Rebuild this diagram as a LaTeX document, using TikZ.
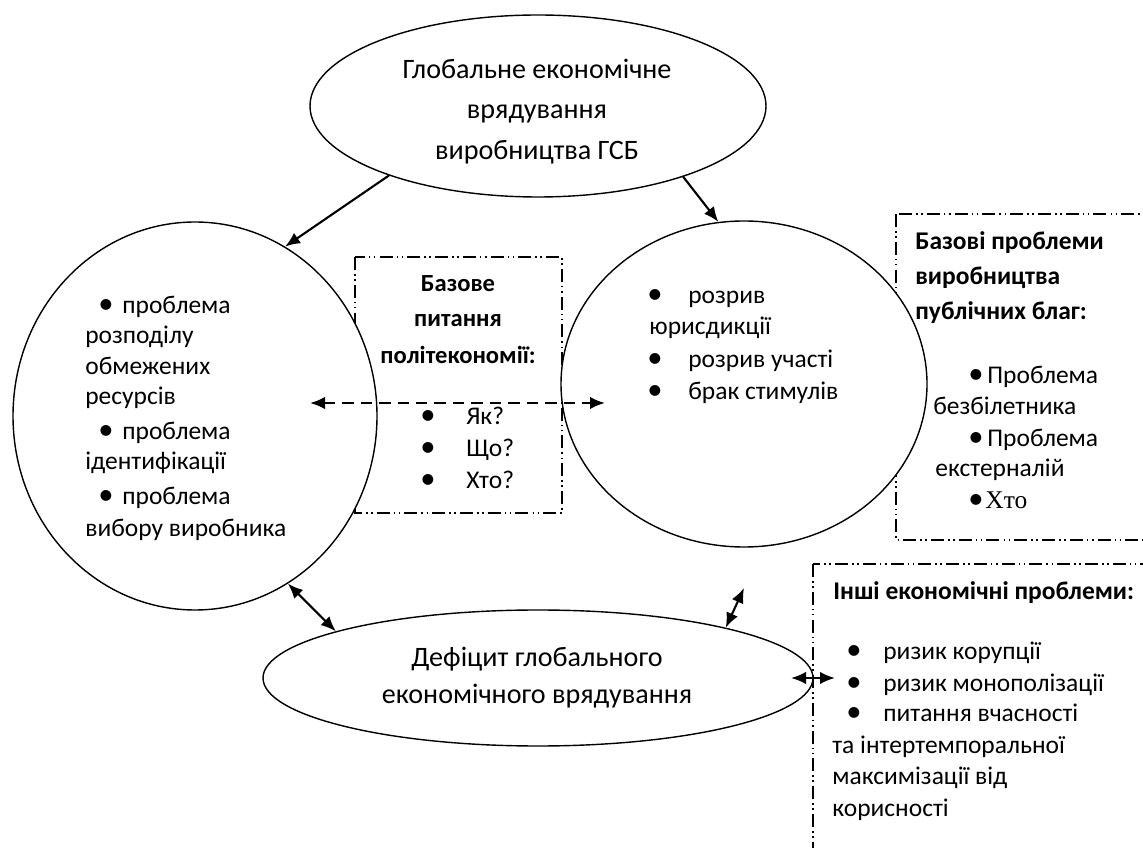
\documentclass[tikz,border=0pt]{standalone}
\usepackage{fontspec}
\setmainfont{Carlito}
\newfontfamily\timesfont{Liberation Serif}
\usetikzlibrary{shapes.geometric,arrows.meta}
\newcommand{\itm}[1]{\makebox[#1][l]{\scalebox{1.2}{•}}}

\begin{document}
\begin{tikzpicture}[>={Latex[length=3mm,width=2.5mm]}]
	\tikzstyle{oval}=[draw,shape=ellipse,fill=white,line width=0.8pt,inner sep=0]
	\tikzstyle{etxt}=[inner sep=0,anchor=base,font=\fontsize{16}{19}\selectfont]
	\tikzstyle{txt}=[inner sep=0,anchor=base west,font=\fontsize{14.5}{17}\selectfont]
	\tikzstyle{btxt}=[inner sep=0,anchor=base west,font=\fontsize{14.5}{17}\selectfont\bfseries]
	\tikzstyle{ctxt}=[inner sep=0,anchor=base,font=\fontsize{14}{17}\selectfont\bfseries]
	\tikzstyle{dbox}=[line width=0.6pt,dash pattern=on 7.4pt off 2.3pt on 0.9pt off 2pt on 0.9pt off 2.3pt]
	\tikzstyle{arr}=[line width=1.2pt,->]

	\useasboundingbox (0,0) rectangle (22.86,16.94);
	\clip (0,0) rectangle (22.86,16.94);

	% dash-dot frames
	\draw[dbox] (7.1,11.8) rectangle (11.24,6.68);
	\draw[dbox] (17.92,12.66) rectangle (23.5,6.14);
	\draw[dbox] (16.26,5.66) rectangle (23.5,-0.5);

	\node[oval,minimum width=9.12cm,minimum height=3.64cm](glob) at (10.76,14.82){};
	\node[oval,minimum width=7.28cm,minimum height=7.76cm](prob) at (3.9,8.62){};
	\node[oval,minimum width=7.32cm,minimum height=6.52cm](rozr) at (14.88,9.26){};
	\node[oval,minimum width=11cm,minimum height=2.72cm](defic) at (10.76,3.38){};

	% top
	\node[etxt](g1) at (10.74,15.37){Глобальне економічне};
	\node[etxt](g2) at (10.74,14.57){врядування};
	\node[etxt](g3) at (10.74,13.75){виробництва ГСБ};

	% left circle
	\node[txt](p1) at (1.96,10.67){\itm{0.48cm}проблема};
	\node[txt](p2) at (1.70,10.07){розподілу};
	\node[txt](p3) at (1.70,9.45){обмежених};
	\node[txt](p4) at (1.70,8.85){ресурсів};
	\node[txt](p5) at (1.96,8.15){\itm{0.48cm}проблема};
	\node[txt](p6) at (1.70,7.55){ідентифікації};
	\node[txt](p7) at (1.96,6.85){\itm{0.48cm}проблема};
	\node[txt](p8) at (1.70,6.21){вибору виробника};

	% middle frame
	\node[ctxt](b1) at (9.16,11.11){Базове};
	\node[ctxt](b2) at (9.16,10.41){питання};
	\node[ctxt](b3) at (9.16,9.67){політекономії:};
	\node[txt](b4) at (8.40,8.45){\itm{0.92cm}Як?};
	\node[txt](b5) at (8.40,7.81){\itm{0.92cm}Що?};
	\node[txt](b6) at (8.40,7.17){\itm{0.92cm}Хто?};

	% right circle
	\node[txt](r1) at (12.94,10.87){\itm{0.82cm}розрив};
	\node[txt](r2) at (12.98,10.25){юрисдикції};
	\node[txt](r3) at (12.94,9.59){\itm{0.82cm}розрив участі};
	\node[txt](r4) at (12.94,8.95){\itm{0.82cm}брак стимулів};

	% public goods frame
	\node[btxt](q1) at (18.30,11.95){Базові проблеми};
	\node[btxt](q2) at (18.30,11.25){виробництва};
	\node[btxt](q3) at (18.30,10.55){публічних благ:};
	\node[txt](q4) at (19.36,9.27){\itm{0.38cm}Проблема};
	\node[txt](q5) at (18.66,8.65){безбілетника};
	\node[txt](q6) at (19.36,8.01){\itm{0.38cm}Проблема};
	\node[txt](q7) at (18.70,7.41){екстерналій};
	\node[txt](q8) at (19.36,6.77){\itm{0.34cm}{\timesfont Хто}};

	% other problems frame
	\node[btxt](o1) at (16.66,4.95){Інші економічні проблеми:};
	\node[txt](o2) at (16.92,3.75){\itm{0.74cm}ризик корупції};
	\node[txt](o3) at (16.92,3.11){\itm{0.74cm}ризик монополізації};
	\node[txt](o4) at (16.92,2.51){\itm{0.74cm}питання вчасності};
	\node[txt](o5) at (16.64,1.87){та інтертемпоральної};
	\node[txt](o6) at (16.64,1.25){максимізації від};
	\node[txt](o7) at (16.64,0.61){корисності};

	% bottom
	\node[etxt](d1) at (10.74,3.61){Дефіцит глобального};
	\node[etxt](d2) at (10.74,2.87){економічного врядування};

	\coordinate (dl) at (6.2,8.88);
	\coordinate (dr) at (12.1,8.88);
	\coordinate (up) at (14.88,5.18);
	\coordinate (ml) at (15.82,3.38);
	\coordinate (mr) at (16.70,3.38);

	\draw[arr] (glob.205) -- (prob.62);
	\draw[arr] (glob.334) -- (rozr.99);
	\draw[arr,<->,line width=1.4pt,dash pattern=on 6.5pt off 4pt] (dl) -- (dr);
	\draw[arr,<->] (prob.299) -- (defic.167);
	\draw[arr,<->] (defic.15.5) -- (up);
	\draw[arr,<->] (ml) -- (mr);
\end{tikzpicture}
\end{document}
